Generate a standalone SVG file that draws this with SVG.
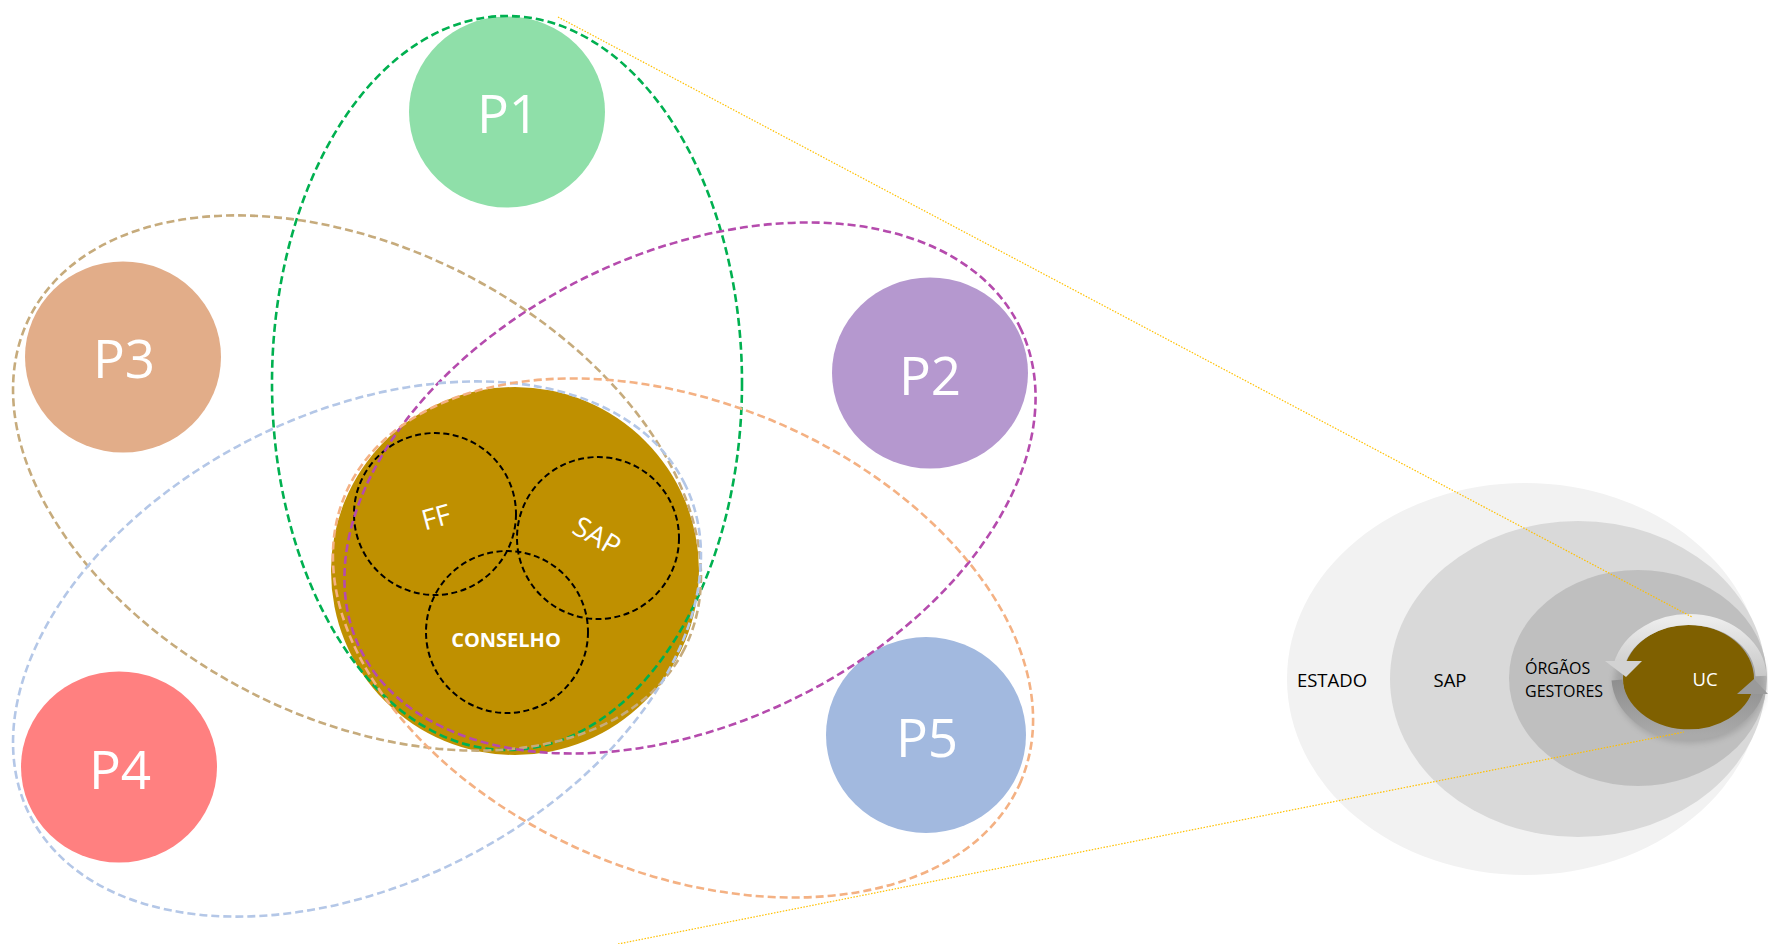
<svg xmlns="http://www.w3.org/2000/svg" width="1768" height="944" viewBox="0 0 1768 944">
<defs>
<style>
.ring{fill:none;stroke-width:2.6;stroke-dasharray:8 4}
.inner{fill:none;stroke:#000;stroke-width:2;stroke-dasharray:6 3.5}
.plabel{font-family:"Open Sans","Noto Sans",sans-serif;font-size:53px;fill:#fff;text-anchor:middle}
.slabel{font-family:"Open Sans","Noto Sans",sans-serif;font-size:28px;fill:#fff;text-anchor:middle}
.rlabel{font-family:"Open Sans","Noto Sans",sans-serif;font-size:18.5px;fill:#000;font-weight:500}
.rsmall{font-family:"Open Sans","Noto Sans",sans-serif;font-size:16px;fill:#000;font-weight:500}
.link{fill:none;stroke:#ffc000;stroke-width:1.2;stroke-dasharray:1.5 1.5}
</style>
<linearGradient id="gUp" x1="0" y1="0" x2="0" y2="1">
<stop offset="0" stop-color="#ececec"/>
<stop offset="1" stop-color="#c8c8c8"/>
</linearGradient>
<linearGradient id="gDown" x1="0" y1="0" x2="0" y2="1">
<stop offset="0" stop-color="#8e8e8e"/>
<stop offset="1" stop-color="#aaaaaa"/>
</linearGradient>
<filter id="sh" x="-30%" y="-30%" width="160%" height="160%">
<feGaussianBlur stdDeviation="3"/>
</filter>
</defs>

<rect width="1768" height="944" fill="#fff"/>

<!-- right-hand nested context -->
<g id="estado">
<ellipse cx="1525" cy="679" rx="238" ry="196" fill="#f2f2f2"/>
<text class="rlabel" x="1332" y="687" text-anchor="middle">ESTADO</text>
</g>
<g id="sap-outer">
<ellipse cx="1578" cy="679" rx="188" ry="158" fill="#d9d9d9"/>
<text class="rlabel" x="1450" y="687" text-anchor="middle">SAP</text>
</g>
<g id="orgaos">
<ellipse cx="1638" cy="678" rx="129" ry="108" fill="#bfbfbf"/>
<text class="rsmall" x="1525" y="674">ÓRGÃOS</text>
<text class="rsmall" x="1525" y="697">GESTORES</text>
</g>
<g id="uc">
<ellipse cx="1690" cy="683" rx="76" ry="60" fill="#7a7a7a" opacity="0.4" filter="url(#sh)"/>
<ellipse cx="1688.5" cy="679" rx="65.5" ry="54" fill="#7f6000"/>
<path d="M1761 676 A72 59 0 0 0 1619 665" fill="none" stroke="url(#gUp)" stroke-width="11"/>
<polygon points="1605,661 1642,661 1626,677" fill="#d2d2d2"/>
<path d="M1617 680 A72 59 0 0 0 1759 689" fill="none" stroke="url(#gDown)" stroke-width="11"/>
<polygon points="1737,694 1768,694 1754,679" fill="#9a9a9a"/>
<text class="rlabel" x="1705" y="686" text-anchor="middle" style="fill:#fff;font-weight:normal">UC</text>
</g>

<!-- central core -->
<g id="core">
<circle cx="515" cy="571" r="184" fill="#bf9000"/>
</g>
<g id="ff">
<circle class="inner" cx="435" cy="514" r="81"/>
<text class="slabel" x="436" y="527" transform="rotate(-15 436 517)">FF</text>
</g>
<g id="sap">
<circle class="inner" cx="598" cy="538" r="81"/>
<text class="slabel" x="597" y="546" transform="rotate(30 597 536)">SAP</text>
</g>
<g id="conselho">
<circle class="inner" cx="507" cy="632" r="81"/>
<text x="506" y="647" text-anchor="middle" style="font-family:'Open Sans','Noto Sans',sans-serif;font-size:20px;font-weight:bold;fill:#fff">CONSELHO</text>
</g>

<!-- P nodes -->
<g id="p1">
<ellipse cx="507" cy="112" rx="98" ry="95.5" fill="#8fdfa9"/>
<text class="plabel" x="508" y="133">P1</text>
</g>
<g id="p3">
<ellipse cx="123" cy="357" rx="98" ry="95.5" fill="#e2ad89"/>
<text class="plabel" x="124" y="378">P3</text>
</g>
<g id="p2">
<ellipse cx="930" cy="373" rx="98" ry="95.5" fill="#b598cf"/>
<text class="plabel" x="930" y="395">P2</text>
</g>
<g id="p4">
<ellipse cx="119" cy="767" rx="98" ry="95.5" fill="#ff8080"/>
<text class="plabel" x="120" y="789">P4</text>
</g>
<g id="p5">
<ellipse cx="926" cy="735" rx="100" ry="98" fill="#a2b9df"/>
<text class="plabel" x="927" y="757">P5</text>
</g>

<!-- dashed group ellipses -->
<g id="groups">
<ellipse class="ring" cx="507" cy="383" rx="235" ry="367" stroke="#00b050"/>
<ellipse class="ring" cx="357" cy="483" rx="367" ry="235" stroke="#c6ab7c" transform="rotate(27 357 483)"/>
<ellipse class="ring" cx="690" cy="488" rx="367" ry="235" stroke="#b54bad" transform="rotate(-26 690 488)"/>
<ellipse class="ring" cx="357" cy="649" rx="367" ry="235" stroke="#b4c7e7" transform="rotate(-27 357 649)"/>
<ellipse class="ring" cx="683" cy="638" rx="367" ry="235" stroke="#f4b183" transform="rotate(23 683 638)"/>
</g>

<!-- connectors (zoom lines) -->
<g id="connectors">
<line class="link" x1="558" y1="17" x2="1692" y2="617"/>
<line class="link" x1="618" y1="944" x2="1684" y2="732"/>
</g>
</svg>
